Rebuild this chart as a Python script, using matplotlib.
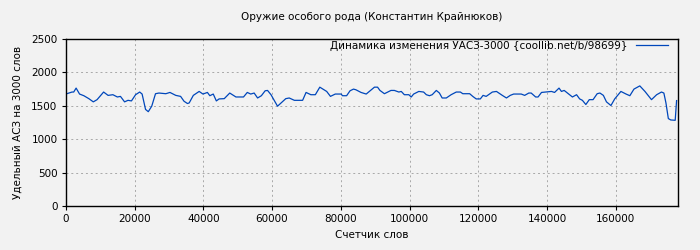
"""Word-count dynamics chart (УАСЗ-3000) for one book."""

import matplotlib as mpl
mpl.use("Agg")
import matplotlib.pyplot as plt

TITLE = "Оружие особого рода (Константин Крайнюков)"
SERIES_LABEL = "Динамика изменения УАСЗ-3000 {coollib.net/b/98699}"
X_LABEL = "Счетчик слов"
Y_LABEL = "Удельный АСЗ на 3000 слов"

words = [
    0, 1800, 2300, 3000, 4000, 5250, 6700, 8000, 9100, 11000, 12300, 13700,
    15000, 15900, 17100, 18100, 19100, 20300, 21500, 22200, 23200, 24000,
    25000, 26100, 27100, 29100, 30300, 32000, 33400, 34400, 35400, 35900,
    37100, 38800, 39900, 41200, 41900, 42900, 43800, 44600, 46100, 47700,
    49500, 51700, 52800, 53800, 54800, 55800, 56900, 58000, 58700, 59700,
    61600, 64000, 65000, 66500, 68900, 69900, 71300, 72600, 73900, 75900,
    77000, 78400, 80100, 80500, 81700, 82700, 83700, 84400, 85900, 87400,
    89800, 90700, 91400, 92700, 94600, 95600, 96900, 97600, 98500, 99800,
    100500, 101200, 102700, 104100, 104900, 105800, 106600, 107800, 108700,
    109500, 110700, 112100, 113600, 114800, 115500, 117500, 118400, 119400,
    120600, 121400, 122300, 124100, 125300, 127000, 128200, 129300, 130300,
    132500, 133500, 134700, 135400, 136700, 137400, 138400, 139600, 141300,
    142200, 143500, 144200, 145000, 147400, 148600, 149500, 150300, 151300,
    152300, 153400, 154600, 155400, 156400, 157300, 158600, 159700, 161500,
    163000, 164100, 165300, 167000, 168500, 170400, 171900, 173300, 174000,
    174600, 175300, 176000, 177300, 177700,
]
uasz = [
    1676, 1706, 1706, 1765, 1676, 1651, 1607, 1559, 1592, 1706, 1656, 1666,
    1632, 1641, 1559, 1582, 1573, 1666, 1706, 1676, 1446, 1412,
    1494, 1681, 1691, 1681, 1700, 1656, 1641, 1568, 1534, 1543,
    1656, 1715, 1676, 1700, 1651, 1676, 1573, 1603, 1607, 1691,
    1632, 1632, 1700, 1676, 1691, 1617, 1651, 1725, 1730, 1666,
    1494, 1607, 1617, 1582, 1582, 1700, 1666, 1666, 1779, 1715,
    1641, 1676, 1676, 1651, 1651, 1725, 1750, 1740, 1700, 1676,
    1779, 1779, 1730, 1681, 1730, 1730, 1706, 1715, 1666, 1666,
    1632, 1676, 1715, 1706, 1666, 1651, 1666, 1730, 1691,
    1617, 1617, 1666, 1706, 1706, 1681, 1681, 1641, 1603,
    1603, 1656, 1641, 1706, 1715, 1656, 1617, 1656, 1676,
    1676, 1656, 1691, 1691, 1632, 1632, 1700, 1706, 1715,
    1700, 1765, 1715, 1730, 1632, 1666, 1603, 1582, 1519,
    1592, 1592, 1681, 1691, 1656, 1559, 1504, 1603, 1715,
    1676, 1651, 1750, 1798, 1715, 1592, 1666, 1706, 1691,
    1544, 1309, 1288, 1283, 1578,
]
x_ticks = [0, 20000, 40000, 60000, 80000, 100000, 120000, 140000, 160000]
y_ticks = [0, 500, 1000, 1500, 2000, 2500]

BG = "#f2f2f2"

mpl.rcParams.update({"font.family": "DejaVu Sans", "font.size": 7.5})

fig = plt.figure(figsize=(7, 2.5), dpi=100, facecolor=BG)
ax = fig.add_axes([0.094, 0.176, 0.875, 0.668], facecolor=BG)

ax.plot(words, uasz, color="#0047bb", linewidth=0.9, label=SERIES_LABEL)

ax.set_xlim(0, 178200)
ax.set_ylim(0, 2500)
ax.set_xticks(x_ticks)
ax.set_yticks(y_ticks)
ax.tick_params(direction="out", length=3, width=0.8, labelsize=7.5, pad=3)
ax.grid(True, color="#a8a8a8", linestyle=(0, (2, 3)), linewidth=0.7)
for spine in ax.spines.values():
    spine.set_linewidth(1.0)

ax.set_title(TITLE, fontsize=7.5, pad=14)
ax.set_xlabel(X_LABEL, fontsize=7.5, labelpad=4)
ax.set_ylabel(Y_LABEL, fontsize=7.5, labelpad=6)

ax.legend(loc="upper right", bbox_to_anchor=(0.985, 1.0), frameon=False,
          markerfirst=False, fontsize=7.5, handlelength=3.0,
          borderaxespad=0.0, borderpad=0.15)

fig.savefig("out.png", dpi=100, facecolor=BG)
